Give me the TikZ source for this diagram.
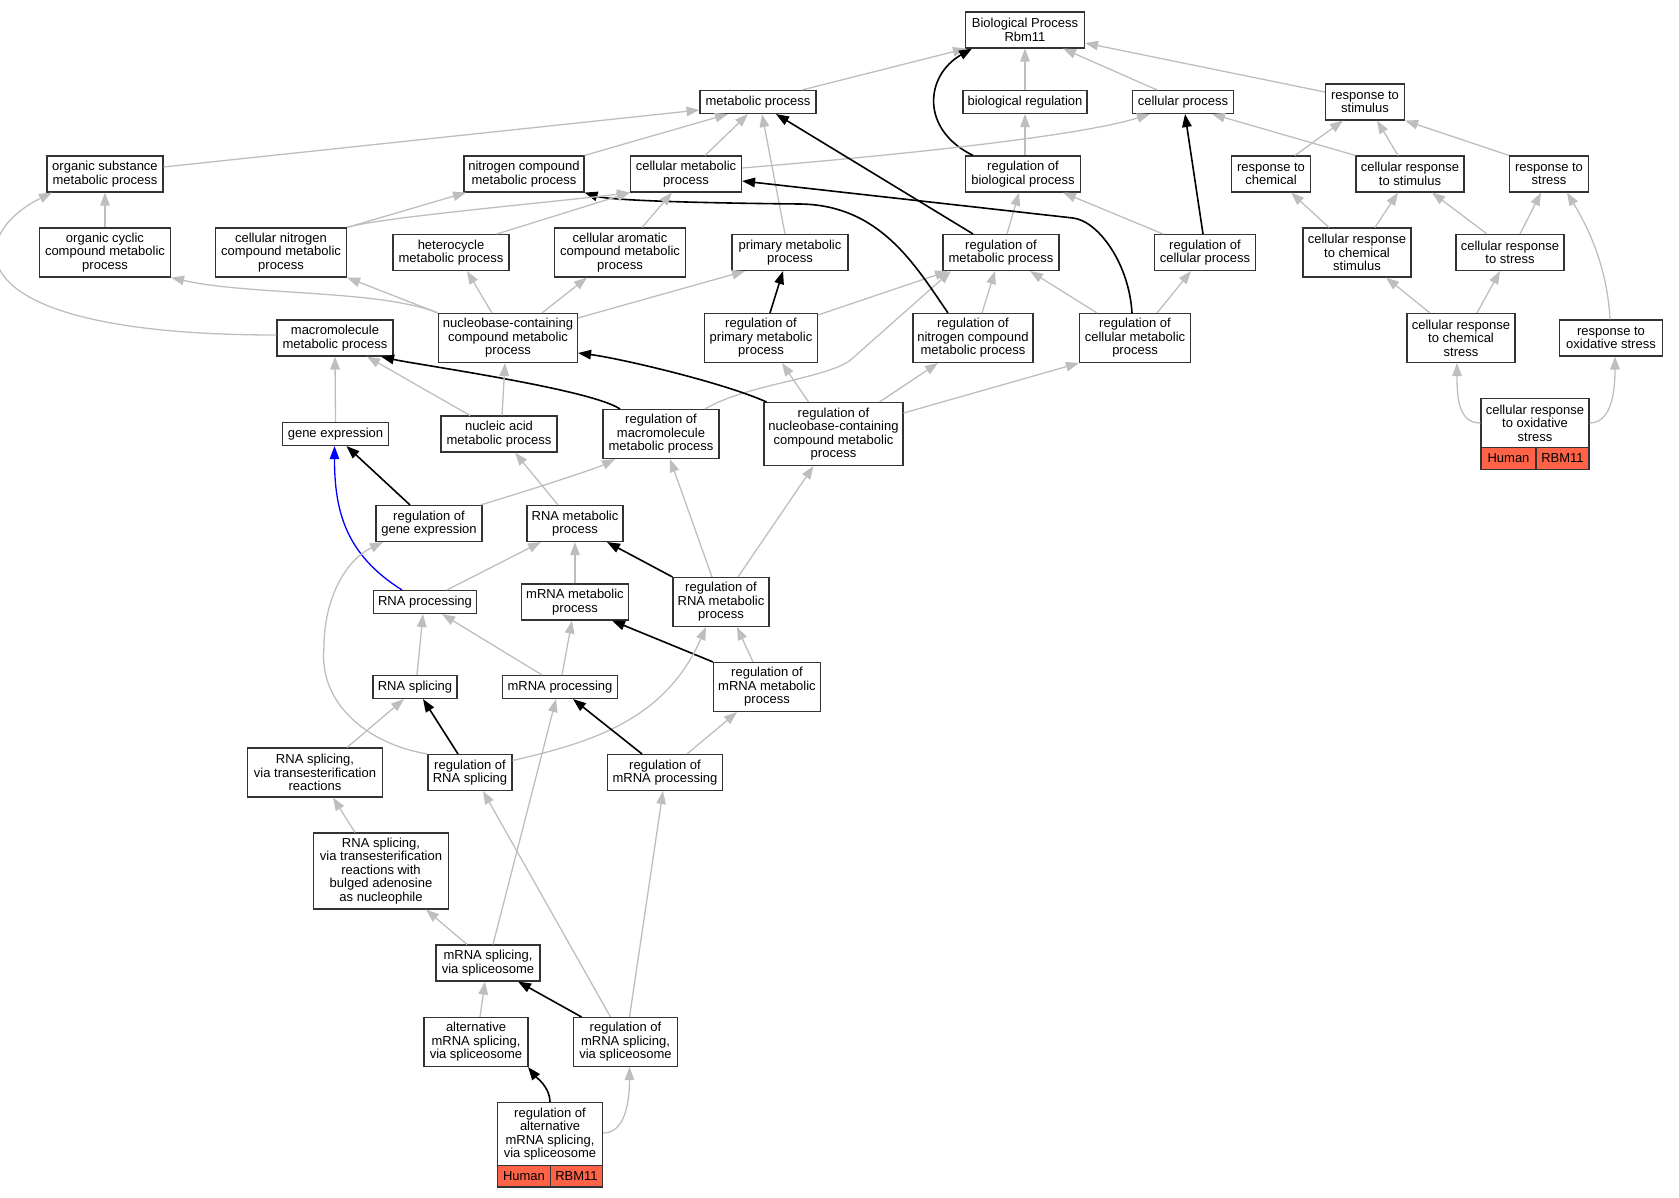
\documentclass[tikz,border=0pt]{standalone}
\usepackage{fontspec}
\setmainfont{Liberation Sans}
\usetikzlibrary{arrows.meta}
\definecolor{edgegray}{RGB}{190,190,190}
\definecolor{tomatored}{RGB}{255,99,71}
\newcommand{\bx}[6]{\node[box,minimum width=#4pt,minimum height=#5pt] (#1) at (#2,#3) {#6};}
\begin{document}
\begin{tikzpicture}[x=1pt,y=-1pt,
  box/.style={draw=black!80, line width=1.1pt, fill=white, inner sep=0pt, align=center, font=\fontsize{13}{13.5}\selectfont},
  cell/.style={box, fill=tomatored},
  g/.style={draw=edgegray, line width=1.3pt, -{Triangle[length=13pt,width=9.5pt]}},
  bk/.style={draw=black, line width=1.6pt, -{Triangle[length=13pt,width=9.5pt]}},
  bl/.style={draw=blue, line width=1.3pt, -{Triangle[length=13pt,width=9.5pt]}}]
\useasboundingbox (0,0) rectangle (1679,1197);
% nodes
\bx{bp}{1025}{30}{119}{36}{Biological Process\\Rbm11}
\bx{mp}{758}{102}{116}{23}{metabolic process}
\bx{br}{1025}{102}{124}{23}{biological regulation}
\bx{cp}{1183}{102}{101}{23}{cellular process}
\bx{rs}{1365}{102}{79}{36}{response to\\stimulus}
\bx{osmp}{105}{174}{116}{36}{organic substance\\metabolic process}
\bx{ncmp}{524}{174}{120}{36}{nitrogen compound\\metabolic process}
\bx{cmp}{686}{174}{111}{36}{cellular metabolic\\process}
\bx{rbp}{1023}{174}{115}{36}{regulation of\\biological process}
\bx{rc}{1271}{174}{79}{36}{response to\\chemical}
\bx{crs}{1410}{174}{108}{36}{cellular response\\to stimulus}
\bx{rst}{1549}{174}{79}{36}{response to\\stress}
\bx{occmp}{105}{252.5}{131}{49}{organic cyclic\\compound metabolic\\process}
\bx{cncmp}{281}{252.5}{131}{49}{cellular nitrogen\\compound metabolic\\process}
\bx{het}{451}{252.5}{116}{36}{heterocycle\\metabolic process}
\bx{cacmp}{620}{252.5}{131}{49}{cellular aromatic\\compound metabolic\\process}
\bx{pmp}{790}{252.5}{116}{36}{primary metabolic\\process}
\bx{rmp}{1001}{252.5}{116}{36}{regulation of\\metabolic process}
\bx{rcp}{1205}{252.5}{101}{36}{regulation of\\cellular process}
\bx{crcs}{1357}{252.5}{108}{49}{cellular response\\to chemical\\stimulus}
\bx{crst}{1510}{252.5}{108}{36}{cellular response\\to stress}
\bx{mmp}{335}{338}{116}{36}{macromolecule\\metabolic process}
\bx{nccmp}{508}{338}{139}{49}{nucleobase-containing\\compound metabolic\\process}
\bx{rpmp}{761}{338}{113}{49}{regulation of\\primary metabolic\\process}
\bx{rncmp}{973}{338}{120}{49}{regulation of\\nitrogen compound\\metabolic process}
\bx{rcmp}{1135}{338}{111}{49}{regulation of\\cellular metabolic\\process}
\bx{crchs}{1461}{338}{108}{49}{cellular response\\to chemical\\stress}
\bx{ros}{1611}{338}{103}{36}{response to\\oxidative stress}
\bx{cros}{1535}{423}{108}{49}{cellular response\\to oxidative\\stress}
\node[cell,minimum width=55pt,minimum height=22pt] (crosh) at (1508.5,458.5) {Human};
\node[cell,minimum width=53pt,minimum height=22pt] (crosg) at (1562.5,458.5) {RBM11};
\bx{ge}{335.5}{434}{106}{23}{gene expression}
\bx{namp}{499}{434}{116}{36}{nucleic acid\\metabolic process}
\bx{rmmp}{661}{434}{116}{49}{regulation of\\macromolecule\\metabolic process}
\bx{rnccmp}{833.5}{434}{139}{63}{regulation of\\nucleobase-containing\\compound metabolic\\process}
\bx{rge}{429}{523.5}{106}{36}{regulation of\\gene expression}
\bx{rnamp}{575}{523.5}{96}{36}{RNA metabolic\\process}
\bx{rnap}{425}{602}{103}{23}{RNA processing}
\bx{mrnamp}{575}{602}{107}{36}{mRNA metabolic\\process}
\bx{rrnamp}{721}{602}{96}{49}{regulation of\\RNA metabolic\\process}
\bx{rnas}{415}{687}{84}{23}{RNA splicing}
\bx{mrnap}{560}{687}{115}{23}{mRNA processing}
\bx{rmrnamp}{767}{687}{107}{49}{regulation of\\mRNA metabolic\\process}
\bx{rsvtr}{315}{772.5}{135}{49}{RNA splicing,\\via transesterification\\reactions}
\bx{rrnas}{470}{772.5}{84}{36}{regulation of\\RNA splicing}
\bx{rmrnap}{665}{772.5}{115}{36}{regulation of\\mRNA processing}
\bx{rsvb}{381}{871}{135}{76}{RNA splicing,\\via transesterification\\reactions with\\bulged adenosine\\as nucleophile}
\bx{mrnasvs}{488}{963}{104}{36}{mRNA splicing,\\via spliceosome}
\bx{amsvs}{476}{1042}{104}{49}{alternative\\mRNA splicing,\\via spliceosome}
\bx{rmsvs}{625.5}{1042}{104}{49}{regulation of\\mRNA splicing,\\via spliceosome}
\bx{ramsvs}{550}{1134}{105}{63}{regulation of\\alternative\\mRNA splicing,\\via spliceosome}
\node[cell,minimum width=53pt,minimum height=21.5pt] (ramsvsh) at (524,1176.25) {Human};
\node[cell,minimum width=52pt,minimum height=21.5pt] (ramsvsg) at (576.5,1176.25) {RBM11};
% waypoints
\coordinate (w1) at (800,204);
\coordinate (w2) at (850,360.5);
\coordinate (w3) at (1073,218);
\coordinate (w4) at (324,646.7);
% edges to bp
\draw[g] ([xshift=44pt]mp.north) -- ([xshift=-59pt]bp.south);
\draw[g] (br.north) -- (bp.south);
\draw[g] ([xshift=-26pt]cp.north) -- ([xshift=38pt]bp.south);
\draw[g] ([yshift=10pt]rs.west) -- ([yshift=-13pt]bp.east);
\draw[bk] ([xshift=-50pt]rbp.north) .. controls +(-53,-26) and +(-47,27) .. ([xshift=-53pt]bp.south);
\draw[g] ([xshift=2pt]rbp.north) -- (br.south);
% to cp
\draw[g] ([yshift=6pt]cmp.east) .. controls +(158,-13) and +(-70,22) .. ([xshift=-33pt]cp.south);
\draw[g] (crs.north west) -- ([xshift=29pt]cp.south);
\draw[bk] ([xshift=-2pt]rcp.north) -- ([xshift=2pt]cp.south);
% to rs
\draw[g] ([xshift=24pt]rc.north) -- ([xshift=-22pt]rs.south);
\draw[g] ([xshift=-12pt]crs.north) -- ([xshift=12pt]rs.south);
\draw[g] (rst.north west) -- (rs.south east);
% to rc crs rst
\draw[g] ([xshift=-28pt]crcs.north) -- ([xshift=20pt]rc.south);
\draw[g] ([xshift=18pt]crcs.north) -- ([xshift=-12pt]crs.south);
\draw[g] ([xshift=-23pt]crst.north) -- ([xshift=22pt]crs.south);
\draw[g] ([xshift=10pt]crst.north) -- ([xshift=-8pt]rst.south);
\draw[g] ([xshift=-1pt]ros.north) .. controls +(-3,-60) and +(15,25) .. ([xshift=18pt]rst.south);
\draw[g] ([xshift=-31pt]crchs.north) -- ([xshift=29pt]crcs.south);
\draw[g] ([xshift=16pt]crchs.north) -- ([xshift=-10pt]crst.south);
\draw[g] (cros.west) .. controls +(-22,0) and +(0,35) .. ([xshift=-4pt]crchs.south);
\draw[g] (cros.east) .. controls +(22,0) and +(0,35) .. ([xshift=4pt]ros.south);
% to rbp
\draw[g] ([xshift=-42pt]rcp.north) -- ([xshift=40pt]rbp.south);
\draw[g] ([xshift=6pt]rmp.north) -- ([xshift=-4pt]rbp.south);
% to mp
\draw[bk] ([xshift=-28pt]rmp.north) -- ([xshift=18pt]mp.south);
\draw[g] ([yshift=7pt]osmp.east) -- ([yshift=-8pt]mp.west);
\draw[g] (ncmp.north east) -- ([xshift=-30pt]mp.south);
\draw[g] ([xshift=19pt]cmp.north) -- ([xshift=-10pt]mp.south);
\draw[g] ([xshift=-5pt]pmp.north) -- ([xshift=4pt]mp.south);
% to rmp
\draw[g] ([xshift=-38pt]rcmp.north) -- ([xshift=29pt]rmp.south);
\draw[g] ([xshift=9pt]rncmp.north) -- ([xshift=-6pt]rmp.south);
\draw[g] ([yshift=-2pt]rpmp.north east) -- ([xshift=-53pt]rmp.south);
\draw[g] ([xshift=44pt]rmmp.north) .. controls +(40,-24) and +(-25,18) .. (w2) -- ([xshift=-50pt]rmp.south);
\draw[g] ([xshift=22pt]rcmp.north) -- ([xshift=-14pt]rcp.south);
\draw[bk] ([xshift=-3pt]rcmp.north) .. controls +(-3,-50) and +(25,3) .. (w3) -- ([yshift=-7pt]cmp.east);
\draw[bk] ([xshift=-25pt]rncmp.north) .. controls +(-33,-48) and +(80,1) .. (w1) .. controls +(-100,-1) and +(26,8) .. (ncmp.south east);
\draw[bk] ([xshift=9pt]rpmp.north) -- ([xshift=-7pt]pmp.south);
% rnccmp
\draw[g] ([xshift=46pt]rnccmp.north) -- ([xshift=-35pt]rncmp.south);
\draw[g] ([yshift=21pt]rnccmp.east) -- (rcmp.south west);
\draw[g] ([xshift=-25pt]rnccmp.north) -- ([xshift=21pt]rpmp.south);
\draw[bk] ([xshift=-67pt]rnccmp.north) .. controls +(-45,-20) and +(40,5) .. ([yshift=-15pt]nccmp.east);
% mmp
\draw[bk] ([xshift=-41pt]rmmp.north) .. controls +(-30,-20) and +(35,8) .. ([xshift=46pt]mmp.south);
\draw[g] ([xshift=-29pt]namp.north) -- ([xshift=32pt]mmp.south);
\draw[g] ([xshift=3pt]namp.north) -- ([xshift=-3pt]nccmp.south);
\draw[g] (ge.north) -- (mmp.south);
\draw[g] ([yshift=3pt]mmp.west) .. controls +(-327,0) and +(-87,43) .. ([xshift=-53pt]osmp.south);
% nccmp out
\draw[g] (nccmp.north west) .. controls +(-58.5,-23.5) and +(79,18) .. (occmp.south east);
\draw[g] (nccmp.north west) -- (cncmp.south east);
\draw[g] ([xshift=-16pt]nccmp.north) -- ([xshift=16pt]het.south);
\draw[g] ([xshift=34pt]nccmp.north) -- ([xshift=-33pt]cacmp.south);
\draw[g] ([yshift=-5pt]nccmp.north east) -- ([xshift=-45pt]pmp.south);
\draw[g] (occmp.north) -- (osmp.south);
\draw[g] (cncmp.north east) -- ([xshift=-58pt]ncmp.south);
\draw[g] (cncmp.north east) .. controls +(30,-10) and +(-60,8) .. (cmp.south west);
\draw[g] ([xshift=46pt]het.north) -- (cmp.south west);
\draw[g] ([xshift=22pt]cacmp.north) -- ([xshift=-14pt]cmp.south);
% lower part
\draw[bk] ([xshift=-19pt]rge.north) -- ([xshift=11pt]ge.south);
\draw[g] ([xshift=-2pt]rge.north east) .. controls +(40,-12) and +(-20,10) .. ([xshift=-46pt]rmmp.south);
\draw[bl] ([xshift=-23pt]rnap.north) .. controls +(-56.7,-35.5) and +(0,64.5) .. ([xshift=-1pt]ge.south);
\draw[g] ([xshift=22pt]rnap.north) -- ([xshift=-34pt]rnamp.south);
\draw[g] (mrnamp.north) -- (rnamp.south);
\draw[bk] (rrnamp.north west) -- ([xshift=32pt]rnamp.south);
\draw[g] ([xshift=-9pt]rrnamp.north) -- ([xshift=9pt]rmmp.south);
\draw[g] ([xshift=17pt]rrnamp.north) -- ([xshift=-20pt]rnccmp.south);
\draw[g] ([xshift=-17pt]rnamp.north) -- ([xshift=16pt]namp.south);
\draw[g] ([xshift=2pt]rnas.north) -- ([xshift=-2pt]rnap.south);
\draw[g] ([xshift=-18pt]mrnap.north) -- ([xshift=17pt]rnap.south);
\draw[g] ([xshift=2pt]mrnap.north) -- ([xshift=-3pt]mrnamp.south);
\draw[bk] (rmrnamp.north west) -- ([xshift=37pt]mrnamp.south);
\draw[g] ([xshift=-14pt]rmrnamp.north) -- ([xshift=16pt]rrnamp.south);
\draw[bk] ([xshift=-12pt]rrnas.north) -- ([xshift=8pt]rnas.south);
\draw[g] ([yshift=12pt]rrnas.east) .. controls +(78,-18) and +(-41,93.5) .. ([xshift=-15pt]rrnamp.south);
\draw[g] (rrnas.north west) .. controls +(-58,-9.5) and +(-6,58) .. (w4) .. controls +(0,-47) and +(-38,18.5) .. ([xshift=-46pt]rge.south);
\draw[g] ([xshift=32pt]rsvtr.north) -- ([xshift=-11pt]rnas.south);
\draw[bk] ([xshift=-23pt]rmrnap.north) -- ([xshift=13pt]mrnap.south);
\draw[g] ([xshift=22pt]rmrnap.north) -- ([xshift=-30pt]rmrnamp.south);
\draw[g] ([xshift=-26pt]rsvb.north) -- ([xshift=18pt]rsvtr.south);
\draw[g] ([xshift=-21pt]mrnasvs.north) -- ([xshift=45pt]rsvb.south);
\draw[g] ([xshift=5pt]mrnasvs.north) -- ([xshift=-4pt]mrnap.south);
\draw[g] ([xshift=-15pt]rmsvs.north) -- ([xshift=13pt]rrnas.south);
\draw[g] ([xshift=4pt]rmsvs.north) -- ([xshift=-2pt]rmrnap.south);
\draw[bk] ([xshift=-44pt]rmsvs.north) -- ([xshift=30pt]mrnasvs.south);
\draw[g] ([xshift=4pt]amsvs.north) -- ([xshift=-3pt]mrnasvs.south);
\draw[bk] (ramsvs.north) .. controls +(0,-15) and +(8,10) .. ([xshift=52pt]amsvs.south);
\draw[g] ([yshift=1pt]ramsvs.east) .. controls +(22,0) and +(0,35) .. ([xshift=4pt]rmsvs.south);
\end{tikzpicture}
\end{document}
